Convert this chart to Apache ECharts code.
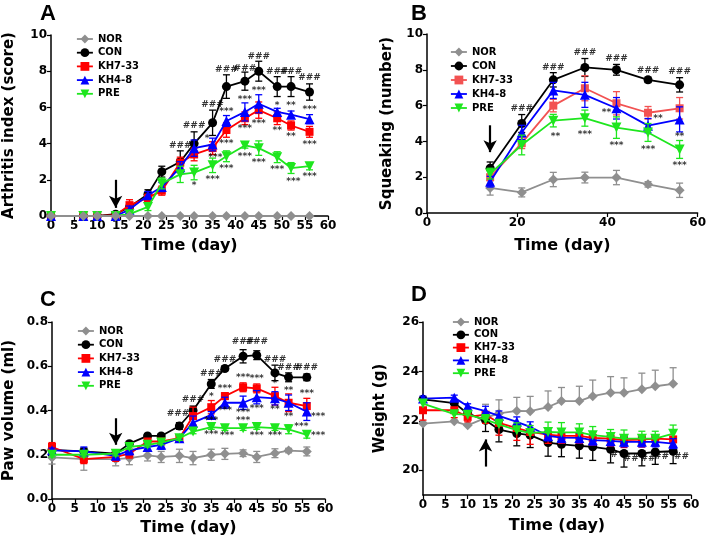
<!DOCTYPE html>
<html><head><meta charset="utf-8">
<script src="https://cdn.jsdelivr.net/npm/echarts@6/dist/echarts.min.js"></script>
<style>html,body{margin:0;padding:0;background:#fff}#c{width:709px;height:540px}</style>
</head><body><div id="c"></div>
<script>
// ---------- Panel A: Arthritis index ----------
const daysA = [0,7,10,14,17,21,24,28,31,35,38,42,45,49,52,56];
const norA   = [0,0,0,0,0,0,0,0,0,0,0,0,0,0,0,0];
const conA   = [0,0,0,0.1,0.5,1.2,2.45,3.0,4.0,5.15,7.15,7.45,8.0,7.15,7.15,6.85];
const kh733A = [0,0,0,0.05,0.6,1.0,1.4,2.95,3.4,3.75,4.75,5.4,5.85,5.4,5.0,4.65];
const kh48A  = [0,0,0,0,0.35,1.15,1.6,2.7,3.75,3.95,5.25,5.75,6.2,5.75,5.6,5.35];
const preA   = [0,0,0,0,0.1,0.5,1.8,2.3,2.4,2.8,3.3,3.9,3.75,3.25,2.65,2.75];
const norAErr   = [0,0,0,0,0,0,0,0,0,0,0,0,0,0,0,0];
const conAErr   = [0,0,0,0.05,0.2,0.25,0.3,0.6,0.65,0.7,0.65,0.5,0.55,0.55,0.55,0.45];
const kh733AErr = [0,0,0,0.05,0.3,0.2,0.25,0.3,0.35,0.35,0.4,0.35,0.45,0.35,0.25,0.3];
const kh48AErr  = [0,0,0,0,0.2,0.2,0.25,0.3,0.45,0.35,0.3,0.5,0.5,0.2,0.2,0.25];
const preAErr   = [0,0,0,0,0.1,0.2,0.3,0.45,0.4,0.4,0.3,0.15,0.4,0.3,0.3,0.2];
const annotA = [
  [28,3.9,'###'],[31,5.0,'###'],[35,6.15,'###'],[38,8.1,'###'],[42,8.15,'###'],[45,8.8,'###'],[49,8.0,'###'],[52,8.0,'###'],[56,7.65,'###'],
  [33.8,4.25,'*'],[35.6,3.25,'***'],[38,5.75,'***'],[38,4.0,'***'],[42,6.45,'***'],[42,4.85,'***'],
  [45,6.95,'***'],[45,5.1,'***'],[49,6.1,'*'],[49,4.7,'**'],[52,6.1,'**'],[52,4.4,'**'],[56,5.85,'***'],[56,3.95,'***'],
  [31,1.65,'*'],[35,2.0,'***'],[38,2.6,'***'],[42,3.3,'***'],[45,2.95,'***'],[49,2.55,'***'],[52.5,1.9,'***'],[56,2.2,'***']
];
const arrowA = [[14,2.0],[14,0.45]];

// ---------- Panel B: Squeaking ----------
const daysB = [14,21,28,35,42,49,56];
const norB   = [1.4,1.15,1.87,1.98,1.98,1.6,1.27];
const conB   = [2.5,5.0,7.44,8.13,8.0,7.44,7.16];
const kh733B = [2.0,3.9,6.0,6.97,6.13,5.6,5.85];
const kh48B  = [1.75,4.5,6.85,6.6,5.85,4.88,5.23];
const preB   = [2.2,3.8,5.16,5.3,4.77,4.5,3.55];
const norBErr   = [0.4,0.25,0.4,0.3,0.4,0.15,0.4];
const conBErr   = [0.35,0.5,0.4,0.5,0.3,0.15,0.4];
const kh733BErr = [0.4,0.3,0.35,0.7,0.65,0.35,0.6];
const kh48BErr  = [0.3,0.4,0.45,0.7,0.6,0.4,0.7];
const preBErr   = [0.3,0.55,0.35,0.45,0.6,0.5,0.5];
const annotB = [
  [21,5.85,'###'],[28,8.1,'###'],[35,8.95,'###'],[42,8.6,'###'],[49,7.95,'###'],[56,7.9,'###'],
  [28.5,4.25,'**'],[35,4.35,'***'],[39.8,5.6,'**'],[42,3.75,'***'],[51.2,5.25,'**'],[49,3.55,'***'],[56,4.25,'**'],[56,2.65,'***']
];
const arrowB = [[14,4.9],[14,3.4]];

// ---------- Panel C: Paw volume ----------
const daysC = [0,7,14,17,21,24,28,31,35,38,42,45,49,52,56];
const norC   = [0.188,0.18,0.18,0.185,0.197,0.19,0.195,0.185,0.2,0.204,0.207,0.19,0.207,0.219,0.215];
const conC   = [0.222,0.215,0.205,0.25,0.285,0.285,0.33,0.4,0.52,0.59,0.645,0.65,0.57,0.55,0.55];
const kh733C = [0.235,0.18,0.19,0.205,0.26,0.26,0.275,0.375,0.415,0.465,0.505,0.5,0.465,0.435,0.42];
const kh48C  = [0.22,0.215,0.195,0.22,0.235,0.245,0.275,0.345,0.38,0.435,0.435,0.46,0.455,0.435,0.395];
const preC   = [0.2,0.2,0.205,0.235,0.245,0.255,0.275,0.305,0.325,0.32,0.32,0.325,0.32,0.315,0.29];
const norCErr   = [0.03,0.05,0.03,0.03,0.025,0.025,0.03,0.03,0.025,0.025,0.015,0.025,0.02,0.01,0.02];
const conCErr   = [0.01,0.015,0.01,0.01,0.01,0.01,0.015,0.02,0.02,0.01,0.03,0.02,0.035,0.02,0.015];
const kh733CErr = [0.02,0.02,0.02,0.02,0.01,0.01,0.01,0.04,0.03,0.015,0.02,0.02,0.04,0.04,0.035];
const kh48CErr  = [0.01,0.02,0.01,0.02,0.015,0.02,0.015,0.03,0.015,0.025,0.03,0.03,0.03,0.035,0.04];
const preCErr   = [0.01,0.01,0.01,0.01,0.01,0.01,0.01,0.01,0.01,0.01,0.01,0.01,0.01,0.02,0.015];
const annotC = [
  [27.7,0.385,'###'],[31,0.45,'###'],[35,0.567,'###'],[38,0.632,'###'],[42,0.71,'###'],[45,0.71,'###'],[49,0.63,'###'],[52,0.595,'###'],[56,0.595,'###'],
  [35,0.462,'*'],[38,0.497,'***'],[42,0.55,'***'],[45,0.545,'***'],[49,0.522,'*'],[52,0.488,'**'],[56,0.474,'***'],
  [38,0.398,'***'],[42,0.39,'***'],[45,0.41,'***'],[49,0.402,'**'],[52,0.372,'**'],[58.5,0.37,'***'],
  [35,0.352,'***'],[42,0.355,'***'],[54.8,0.327,'***'],[58.5,0.287,'***'],
  [35,0.293,'***'],[38.5,0.287,'***'],[45,0.287,'***'],[49,0.287,'***']
];
const arrowC = [[14,0.365],[14,0.245]];

// ---------- Panel D: Weight ----------
const daysD = [0,7,10,14,17,21,24,28,31,35,38,42,45,49,52,56];
const norD   = [21.89,21.98,21.82,22.12,22.3,22.4,22.39,22.56,22.8,22.8,23.0,23.14,23.14,23.28,23.4,23.5];
const conD   = [22.87,22.72,22.3,22.02,21.65,21.49,21.42,21.12,21.05,20.99,20.95,20.85,20.68,20.68,20.74,20.77];
const kh733D = [22.43,22.43,22.16,22.25,21.92,21.71,21.55,21.44,21.39,21.39,21.31,21.28,21.22,21.24,21.28,21.25];
const kh48D  = [22.9,22.94,22.59,22.39,22.2,21.96,21.76,21.39,21.32,21.31,21.22,21.19,21.15,21.15,21.15,21.08];
const preD   = [22.7,22.27,22.25,22.05,21.86,21.62,21.51,21.55,21.53,21.53,21.42,21.35,21.28,21.28,21.28,21.48];
const norDErr   = [0.05,0.05,0.05,0.55,0.55,0.55,0.6,0.65,0.55,0.6,0.65,0.65,0.6,0.65,0.65,0.65];
const conDErr   = [0.05,0.05,0.05,0.45,0.5,0.5,0.5,0.55,0.5,0.5,0.55,0.55,0.55,0.5,0.5,0.5];
const kh733DErr = [0.4,0.3,0.2,0.35,0.5,0.5,0.5,0.35,0.3,0.3,0.3,0.3,0.3,0.3,0.3,0.3];
const kh48DErr  = [0.1,0.1,0.1,0.2,0.2,0.2,0.2,0.2,0.2,0.2,0.2,0.2,0.2,0.2,0.2,0.2];
const preDErr   = [0.1,0.1,0.1,0.2,0.2,0.3,0.3,0.4,0.4,0.35,0.35,0.3,0.35,0.3,0.3,0.35];
const annotD = [[42.8,20.64,'#'],[46.6,20.47,'##'],[50.4,20.47,'##'],[53.4,20.57,'##'],[57.9,20.57,'##']];
const arrowD = [[14,20.15],[14,21.25]];

const groupNames = ['NOR','CON','KH7-33','KH4-8','PRE'];
// ----------------------------------------------------------
const FONT = 'DejaVu Sans';
const GRAY = '#8f8f8f', BLACK = '#000000', RED = '#ff0000', RED_B = '#f25252', BLUE = '#0000ff', GREEN = '#1ee61e';
const SYM = {
  'NOR': {symbol:'diamond', size:10, rot:0},
  'CON': {symbol:'circle', size:9, rot:0},
  'KH7-33': {symbol:'rect', size:8, rot:0},
  'KH4-8': {symbol:'triangle', size:10, rot:0},
  'PRE': {symbol:'triangle', size:10, rot:180}
};

const series = [];
function addGroup(idx, name, color, days, vals, errs, dir, z) {
  const s = SYM[name];
  series.push({
    type:'custom', name:name + ' err', xAxisIndex:idx, yAxisIndex:idx, z:z,
    data: days.map((d,i)=>[d, vals[i], errs[i]]),
    silent:true,
    renderItem: function(params, api){
      const x = api.value(0), y = api.value(1), e = api.value(2);
      if (!e) return null;
      const hi = dir !== 'down' ? y + e : y;
      const lo = dir !== 'up' ? y - e : y;
      const p1 = api.coord([x, hi]), p2 = api.coord([x, lo]);
      const st = {stroke:color, lineWidth:1.3};
      const ch = [{type:'line', shape:{x1:p1[0],y1:p1[1],x2:p2[0],y2:p2[1]}, style:st}];
      if (dir !== 'down') ch.push({type:'line', shape:{x1:p1[0]-3.5,y1:p1[1],x2:p1[0]+3.5,y2:p1[1]}, style:st});
      if (dir !== 'up') ch.push({type:'line', shape:{x1:p2[0]-3.5,y1:p2[1],x2:p2[0]+3.5,y2:p2[1]}, style:st});
      return {type:'group', children:ch};
    }
  });
  series.push({
    type:'line', name:name, xAxisIndex:idx, yAxisIndex:idx, z:z+0.5,
    data: days.map((d,i)=>[d, vals[i]]),
    symbol:s.symbol, symbolSize:s.size, symbolRotate:s.rot, showSymbol:true,
    lineStyle:{color:color, width:1.8}, itemStyle:{color:color},
    animation:false
  });
}
function addAnnot(idx, annot, arrow) {
  series.push({
    type:'scatter', name:'annot' + idx, xAxisIndex:idx, yAxisIndex:idx, z:20, silent:true,
    symbolSize:0,
    data: annot.map(a=>({value:[a[0],a[1]], name:a[2]})),
    label:{show:true, position:'inside', formatter: p => p.name,
      fontFamily:FONT, fontWeight:'bold', fontSize:9, color:'#000'},
    markLine:{
      silent:true, symbol:['none','arrow'], symbolSize:[10,12], animation:false,
      lineStyle:{color:'#000', width:2.2, type:'solid'}, label:{show:false},
      data:[[{coord:arrow[0]},{coord:arrow[1]}]]
    }
  });
}

addGroup(0,'CON',BLACK,daysA,conA,conAErr,'both',3);
addGroup(0,'KH7-33',RED,daysA,kh733A,kh733AErr,'both',4);
addGroup(0,'KH4-8',BLUE,daysA,kh48A,kh48AErr,'both',5);
addGroup(0,'PRE',GREEN,daysA,preA,preAErr,'both',6);
addGroup(0,'NOR',GRAY,daysA,norA,norAErr,'both',7);
addAnnot(0,annotA,arrowA);

addGroup(1,'NOR',GRAY,daysB,norB,norBErr,'both',2);
addGroup(1,'CON',BLACK,daysB,conB,conBErr,'both',3);
addGroup(1,'KH7-33',RED_B,daysB,kh733B,kh733BErr,'both',4);
addGroup(1,'KH4-8',BLUE,daysB,kh48B,kh48BErr,'both',5);
addGroup(1,'PRE',GREEN,daysB,preB,preBErr,'both',6);
addAnnot(1,annotB,arrowB);

addGroup(2,'NOR',GRAY,daysC,norC,norCErr,'both',2);
addGroup(2,'CON',BLACK,daysC,conC,conCErr,'both',3);
addGroup(2,'KH7-33',RED,daysC,kh733C,kh733CErr,'both',4);
addGroup(2,'KH4-8',BLUE,daysC,kh48C,kh48CErr,'both',5);
addGroup(2,'PRE',GREEN,daysC,preC,preCErr,'both',6);
addAnnot(2,annotC,arrowC);

addGroup(3,'NOR',GRAY,daysD,norD,norDErr,'up',2);
addGroup(3,'CON',BLACK,daysD,conD,conDErr,'down',3);
addGroup(3,'KH7-33',RED,daysD,kh733D,kh733DErr,'down',4);
addGroup(3,'KH4-8',BLUE,daysD,kh48D,kh48DErr,'both',5);
addGroup(3,'PRE',GREEN,daysD,preD,preDErr,'up',6);
addAnnot(3,annotD,arrowD);

const grids = [
  {left:51, top:35, width:277, height:181},
  {left:427, top:34, width:274, height:179},
  {left:52, top:322, width:273, height:177},
  {left:423, top:322, width:268, height:173}
];
const axisCommon = {
  axisLine:{show:true, onZero:false, lineStyle:{color:'#000', width:1.5}},
  axisTick:{show:true, length:4, lineStyle:{color:'#000', width:1.2}},
  splitLine:{show:false},
  axisLabel:{color:'#000', fontFamily:FONT, fontWeight:'bold', fontSize:12, margin:4},
  nameTextStyle:{color:'#000', fontFamily:FONT, fontWeight:'bold', fontSize:16},
  nameLocation:'middle'
};
function xAx(idx, interval, gap) {
  return Object.assign({}, axisCommon, {type:'value', gridIndex:idx, min:0, max:60, interval:interval,
    name:'Time (day)', nameGap:gap});
}
function yAx(idx, o) {
  const base = Object.assign({}, axisCommon, {type:'value', gridIndex:idx});
  base.nameTextStyle = Object.assign({}, axisCommon.nameTextStyle, {fontSize:15});
  return Object.assign(base, o);
}
const xAxis = [xAx(0,5,22), xAx(1,20,25), xAx(2,5,21), xAx(3,5,23)];
const yAxis = [
  yAx(0,{min:0,max:10,interval:2,name:'Arthritis index (score)',nameGap:34}),
  yAx(1,{min:0,max:10,interval:2,name:'Squeaking (number)',nameGap:32}),
  yAx(2,{min:0,max:0.8,interval:0.2,name:'Paw volume (ml)',nameGap:35,
    axisLabel:Object.assign({}, axisCommon.axisLabel, {formatter:v=>v.toFixed(1)})}),
  yAx(3,{min:19,max:26,name:'Weight (g)',nameGap:35,
    axisTick:Object.assign({}, axisCommon.axisTick, {customValues:[20,22,24,26]}),
    axisLabel:Object.assign({}, axisCommon.axisLabel, {customValues:[20,22,24,26]})})
];

function legendData(redColor) {
  const cols = {'NOR':GRAY,'CON':BLACK,'KH7-33':redColor,'KH4-8':BLUE,'PRE':GREEN};
  return groupNames.map(n => ({name:n, itemStyle:{color:cols[n]}, lineStyle:{color:cols[n], width:1.8}}));
}
function legend(left, top, gap, redColor) {
  return {orient:'vertical', left:left, top:top, itemWidth:16, itemHeight:11, itemGap:gap,
    selectedMode:false, data:legendData(redColor),
    textStyle:{color:'#000', fontFamily:FONT, fontWeight:'bold', fontSize:10, padding:[0,0,0,0]},
    padding:0};
}

const letters = [['A',40,3],['B',411,3],['C',40,289],['D',411,284]].map(l => ({
  type:'text', left:l[1], top:l[2],
  style:{text:l[0], font:'bold 22px "Liberation Sans"', fill:'#000'}
}));

const chart = echarts.init(document.getElementById('c'), null, {renderer:'canvas'});
chart.setOption({
  animation:false,
  backgroundColor:'#fff',
  grid:grids,
  xAxis:xAxis,
  yAxis:yAxis,
  legend:[legend(76,34,3.7,RED), legend(450,47,4,RED_B), legend(77,326,3.7,RED), legend(452,317,2.8,RED)],
  graphic:letters,
  series:series
});
</script></body></html>
